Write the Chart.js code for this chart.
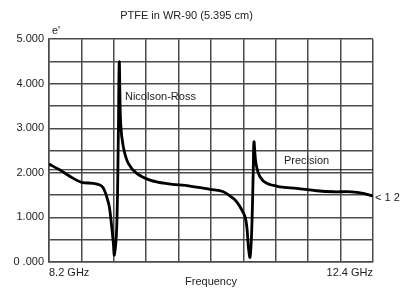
<!DOCTYPE html>
<html>
<head>
<meta charset="utf-8">
<script src="https://cdn.jsdelivr.net/npm/chart.js@4.4.1/dist/chart.umd.min.js"></script>
<style>
  html, body { margin: 0; padding: 0; background: #fff; }
  #wrap { width: 407px; height: 293px; }
</style>
</head>
<body>
<div id="wrap"><canvas id="miGrafico" width="407" height="293"></canvas></div>
<script>
// frecuencia en GHz y e'
const freq = [8.2, 8.343, 8.515, 8.624, 8.774, 8.861, 8.9, 8.926, 8.952, 8.982, 9.013, 9.034, 9.047,
    9.078, 9.098, 9.111, 9.129, 9.163, 9.228, 9.337, 9.509, 9.726, 10.028, 10.287, 10.46,
    10.589, 10.633, 10.676, 10.741, 10.767, 10.784, 10.806, 10.828, 10.848, 10.857, 10.883, 10.935, 11.022,
    11.195, 11.411, 11.67, 11.886, 12.124, 12.274, 12.4];
const nicolson = [2.197, 2.063, 1.877, 1.787, 1.765, 1.726, 1.67, 1.576, 1.44, 1.24, 0.791, 0.419, 0.157,
    0.791, 2.735, 4.49, 3.11, 2.585, 2.213, 1.989, 1.839, 1.76, 1.704, 1.63, 1.576,
    1.428, 1.35, 1.24, 1.016, 0.75, 0.343, 0.105, 0.717, 2.063, 2.697, 2.213, 1.913, 1.765,
    1.688, 1.652, 1.599, 1.576, 1.576, 1.54, 1.48];
const precisionFreq = [8.2, 12.4];
const precision = [2.07, 2.07];
const xMin = 8.2, xMax = 12.4, xDivs = 10;
const xLabels = ['8.2 GHz', '12.4 GHz'];
const yLabels = ['0 .000', '1.000', '2.000', '3.000', '4.000', '5.000'];

const fuente = 'Liberation Sans, Arial, sans-serif';
const gris = '#4a4a4a';

const puntos = [];
for (let i = 0; i < freq.length; i++) {
    puntos.push({x: freq[i], y: nicolson[i]});
}
const puntosP = [];
for (let i = 0; i < precisionFreq.length; i++) {
    puntosP.push({x: precisionFreq[i], y: precision[i]});
}

// textos sobre el grafico
const etiquetas = {
    id: 'etiquetas',
    afterDraw(chart) {
        const ctx = chart.ctx;
        const xs = chart.scales.x, ys = chart.scales.y;
        ctx.save();
        ctx.fillStyle = '#222';
        ctx.font = '11px ' + fuente;
        ctx.textBaseline = 'middle';
        ctx.textAlign = 'left';
        ctx.fillText('Nicolson-Ross', xs.getPixelForValue(9.185), ys.getPixelForValue(3.706));
        ctx.fillText('Precision', xs.getPixelForValue(11.246), ys.getPixelForValue(2.271));
        ctx.fillText('< 1 2', xs.getPixelForValue(xMax) + 2, ys.getPixelForValue(nicolson[nicolson.length - 1]) + 2);
        ctx.fillText("e'", chart.chartArea.left + 3, chart.chartArea.top - 8);
        ctx.restore();
    }
};

const grafico = new Chart(document.getElementById('miGrafico'), {
    type: 'line',
    data: {
        datasets: [
            {
                label: 'Nicolson-Ross',
                data: puntos,
                borderColor: '#000',
                borderWidth: 2.8,
                pointRadius: 0,
                tension: 0.35,
                fill: false
            },
            {
                label: 'Precision',
                data: puntosP,
                borderColor: '#111',
                borderWidth: 1.2,
                pointRadius: 0,
                fill: false
            }
        ]
    },
    options: {
        responsive: false,
        animation: false,
        layout: {padding: {left: 0, right: 34, top: 0, bottom: 0}},
        plugins: {
            legend: {display: false},
            tooltip: {enabled: false},
            title: {
                display: true,
                text: 'PTFE in WR-90 (5.395 cm)',
                color: '#222',
                font: {family: fuente, size: 11, weight: 'normal'},
                padding: {top: 9, bottom: 17}
            }
        },
        scales: {
            x: {
                type: 'linear',
                min: xMin,
                max: xMax,
                afterBuildTicks: (scale) => {
                    const t = [];
                    for (let i = 0; i <= xDivs; i++) {
                        t.push({value: xMin + i * (xMax - xMin) / xDivs});
                    }
                    scale.ticks = t;
                },
                afterFit: (scale) => { scale.height = 31; },
                ticks: {
                    autoSkip: false,
                    maxRotation: 0,
                    align: 'inner',
                    padding: 4,
                    color: '#222',
                    font: {family: fuente, size: 11},
                    callback: (v, i) => i === 0 ? xLabels[0] : (i === xDivs ? xLabels[1] : '')
                },
                grid: {color: gris, lineWidth: 1.5, drawTicks: false},
                border: {color: gris, width: 1.5},
                title: {
                    display: true,
                    text: 'Frequency',
                    color: '#222',
                    font: {family: fuente, size: 11},
                    padding: {top: 0, bottom: 4}
                }
            },
            y: {
                min: 0,
                max: 5,
                afterFit: (scale) => { scale.width = 49; },
                ticks: {
                    stepSize: 0.5,
                    padding: 5,
                    color: '#222',
                    font: {family: fuente, size: 11},
                    callback: (v) => Number.isInteger(v) ? yLabels[v] : ''
                },
                grid: {color: gris, lineWidth: 1.5, drawTicks: false},
                border: {color: gris, width: 1.5}
            }
        }
    },
    plugins: [etiquetas]
});
</script>
</body>
</html>
